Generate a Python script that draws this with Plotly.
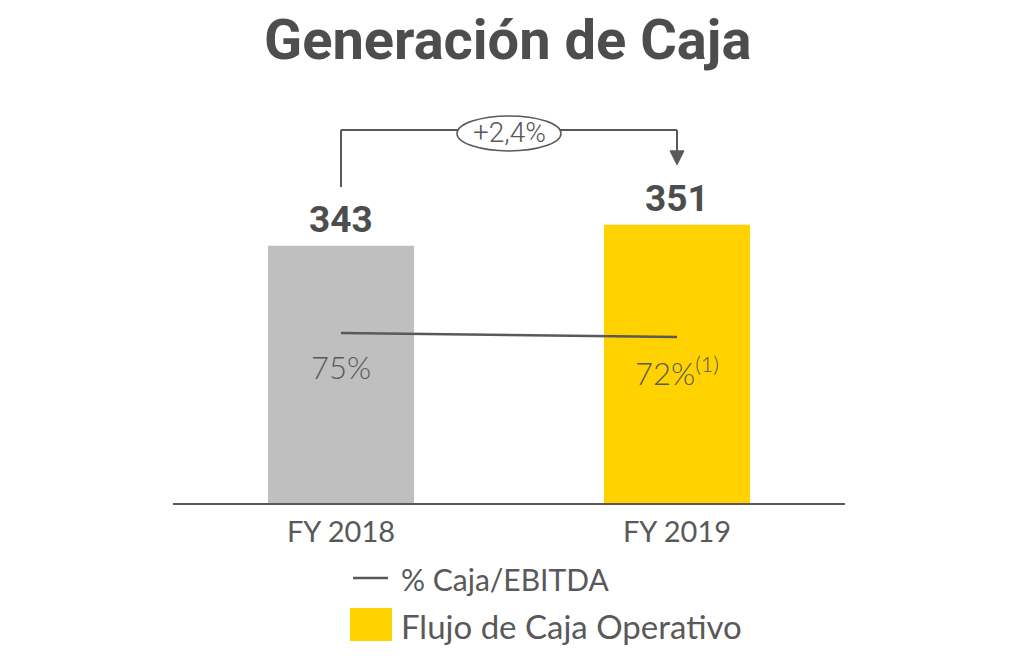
import plotly.graph_objects as go

# ---- data ----
categories = ["FY 2018", "FY 2019"]
flujo_caja = [343, 351]          # Flujo de Caja Operativo
pct_caja_ebitda = [75, 72]       # % Caja/EBITDA
pct_suffix = ["", "<sup>(1)</sup>"]
growth_label = "+2,4%"
chart_title = "Generación de Caja"
bar_colors = ["#bfbfbf", "#ffd200"]

TXT = "#595959"
DARK = "#4d4d4d"
GOTHIC = "Lato"

fig = go.Figure()

fig.add_trace(go.Bar(
    x=categories, y=flujo_caja, marker=dict(color=bar_colors, line=dict(width=0)),
    width=0.435, name="Flujo de Caja Operativo", showlegend=False, hoverinfo="skip",
))
fig.add_trace(go.Scatter(
    x=categories, y=pct_caja_ebitda, yaxis="y2", mode="lines",
    line=dict(color=TXT, width=2.5), name="% Caja/EBITDA", showlegend=False,
))

annotations = []
# title
annotations.append(dict(x=0.4985, y=1.1489, xref="paper", yref="paper",
                        text=f"<b>{chart_title}</b>", showarrow=False,
                        xanchor="center", yanchor="middle",
                        font=dict(family="Roboto", size=56, color=DARK)))
# value labels on bars
for c, v in zip(categories, flujo_caja):
    annotations.append(dict(x=c, y=v, xref="x", yref="y", text=f"<b>{v}</b>",
                            showarrow=False, yanchor="bottom", yshift=3,
                            font=dict(family="Roboto", size=37, color=DARK)))
# percentage labels
for c, p, s in zip(categories, pct_caja_ebitda, pct_suffix):
    annotations.append(dict(x=c, y=p, xref="x", yref="y2", text=f"{p}%{s}",
                            showarrow=False, yanchor="middle", yshift=-34,
                            font=dict(family=GOTHIC, size=31, color=TXT, weight=300)))

# growth bracket
start_y = flujo_caja[0] + 22.4
top_y = max(flujo_caja) + 36.1
tip_y = flujo_caja[1] + 22.8
shapes = [
    dict(type="line", xref="x", yref="y", x0=0, x1=0, y0=start_y, y1=top_y,
         line=dict(color=TXT, width=2)),
    dict(type="line", xref="x", yref="y", x0=0, x1=1, y0=top_y, y1=top_y,
         line=dict(color=TXT, width=2)),
    dict(type="line", xref="x", yref="y", x0=1, x1=1, y0=top_y, y1=tip_y + 3,
         line=dict(color=TXT, width=2)),
    dict(type="path", xref="x", yref="y", xsizemode="pixel", ysizemode="pixel",
         xanchor=1, yanchor=tip_y, path="M-7,14 L7,14 L0,0 Z",
         fillcolor=TXT, line=dict(color=TXT, width=1)),
    dict(type="circle", xref="x", yref="y", xsizemode="pixel", ysizemode="pixel",
         xanchor=0.5, yanchor=top_y, x0=-52, x1=52, y0=-21, y1=14,
         fillcolor="white", line=dict(color=TXT, width=1.5), layer="above"),
]
annotations.append(dict(x=0.5, y=top_y, xref="x", yref="y", text=growth_label,
                        showarrow=False, yanchor="middle", yshift=-3,
                        font=dict(family="Roboto", size=28, color=TXT, weight=300)))

# manual legend (paper coords)
shapes.append(dict(type="line", xref="paper", yref="paper", x0=0.2679, x1=0.3199,
                   y0=-0.1861, y1=-0.1861, line=dict(color=TXT, width=2.5)))
shapes.append(dict(type="rect", xref="paper", yref="paper", x0=0.2634, x1=0.3259,
                   y0=-0.2605, y1=-0.3424, fillcolor=bar_colors[1], line=dict(width=0)))
annotations.append(dict(x=0.337, y=-0.1886, xref="paper", yref="paper",
                        text="% Caja/EBITDA", showarrow=False, xanchor="left",
                        yanchor="middle", font=dict(family=GOTHIC, size=30, color=TXT)))
annotations.append(dict(x=0.337, y=-0.3052, xref="paper", yref="paper",
                        text="Flujo de Caja Operativo", showarrow=False, xanchor="left",
                        yanchor="middle", font=dict(family=GOTHIC, size=33, color=TXT)))

fig.update_layout(
    width=1035, height=656,
    margin=dict(l=165, r=198, t=92, b=161),
    paper_bgcolor="white", plot_bgcolor="white",
    xaxis=dict(type="category", range=[-0.5, 1.5], showline=True, linecolor=TXT,
               linewidth=2, showgrid=False, ticks="outside", ticklen=2,
               tickcolor="rgba(0,0,0,0)",
               tickfont=dict(family=GOTHIC, size=29, color=TXT)),
    yaxis=dict(range=[245, 398.5], visible=False, showgrid=False),
    yaxis2=dict(range=[-52.5, 249.75], overlaying="y", visible=False, showgrid=False),
    shapes=shapes, annotations=annotations, showlegend=False,
)

fig.write_html("out.html")
